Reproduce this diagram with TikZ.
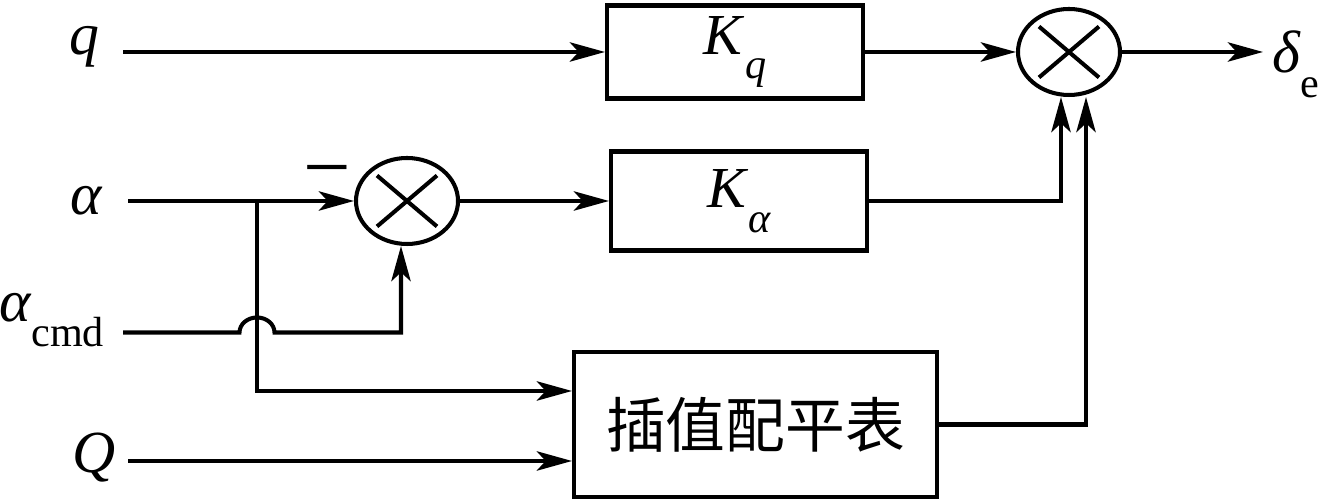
\documentclass[tikz,border=0pt]{standalone}
\usepackage{fontspec}
\setmainfont{Liberation Serif}
\newfontfamily\cjk{Noto Sans CJK SC}
\usetikzlibrary{arrows.meta}
\usetikzlibrary{calc}
\usetikzlibrary{shapes.geometric}
\newcommand{\lowsub}[2]{#1\lower14pt\hbox{\fontsize{24}{28}\selectfont #2}}

\begin{document}
\begin{tikzpicture}[>/.tip={Stealth[length=20pt,width=11pt,inset=5pt]},line width=2.3pt,
	gain/.style={draw,rectangle,inner sep=0pt,font=\fontsize{33}{38}\selectfont},
	summer/.style={draw,ellipse,inner sep=0pt,minimum width=2.04cm,minimum height=1.72cm},
	lbl/.style={font=\fontsize{34}{40}\selectfont}]
	\useasboundingbox (0,0) rectangle (26.4,10);
	% blocks
	\node (kq) [gain,minimum width=5.12cm,minimum height=1.86cm] at (14.70,8.96) {\lowsub{\textit{K}}{\textit{q}}};
	\node (ka) [gain,minimum width=5.12cm,minimum height=1.98cm] at (14.78,5.98) {\lowsub{\textit{K}}{\textit{α}}};
	\node (tab) [gain,minimum width=7.26cm,minimum height=2.9cm,font=\fontsize{34}{40}\selectfont\cjk] at (15.11,1.51) {插值配平表};
	\node (sum1) [summer] at (21.38,8.96) {};
	\node (sum2) [summer] at (8.14,5.98) {};
	\foreach \s in {sum1,sum2} {
		\draw ($(\s.center)!0.8!(\s.north east)$) -- ($(\s.center)!0.8!(\s.south west)$);
		\draw ($(\s.center)!0.8!(\s.north west)$) -- ($(\s.center)!0.8!(\s.south east)$);
	}
	% signals
	\node (q) [lbl] at (1.68,9.07) {\textit{q}};
	\node (a) [lbl] at (1.74,5.98) {\textit{α}};
	\node (acmd) [lbl] at (1.03,3.60) {\lowsub{\textit{α}}{cmd}};
	\node (Q) [lbl] at (1.88,0.84) {\textit{Q}};
	\node (de) [lbl] at (25.92,8.71) {\lowsub{\textit{δ}}{e}};
	\node (minus) [lbl,font=\fontsize{48}{52}\selectfont] at (6.54,6.40) {−};
	\coordinate (qin) at (2.46,8.96);
	\coordinate (ain) at (2.56,5.98);
	\coordinate (cin) at (2.46,3.35);
	\coordinate (Qin) at (2.56,0.78);
	\coordinate (jn) at (5.14,5.98);
	\coordinate (jt) at (5.14,2.18);
	\coordinate (out) at (25.26,8.96);
	% connections
	\draw[->] (qin) -- (kq.west);
	\draw[->] (kq.east) -- (sum1.west);
	\draw[->] (sum1.east) -- (out);
	\draw[->] (ain) -- (sum2.west);
	\draw[->] (sum2.east) -- (ka.west);
	\draw[->] (ka.east) -| ([xshift=-0.16cm]sum1.south);
	\draw[->] (tab.east) -| ([xshift=0.34cm]sum1.south);
	\draw[->] (jn) -- (jt) -- (tab.west |- jt);
	\draw[->] (cin) -- ([xshift=-0.35cm]jn |- cin) arc[start angle=180,end angle=0,x radius=0.35cm,y radius=0.3cm] -| ([xshift=-0.12cm]sum2.south);
	\draw[->] (Qin) -- (tab.west |- Qin);
\end{tikzpicture}
\end{document}
